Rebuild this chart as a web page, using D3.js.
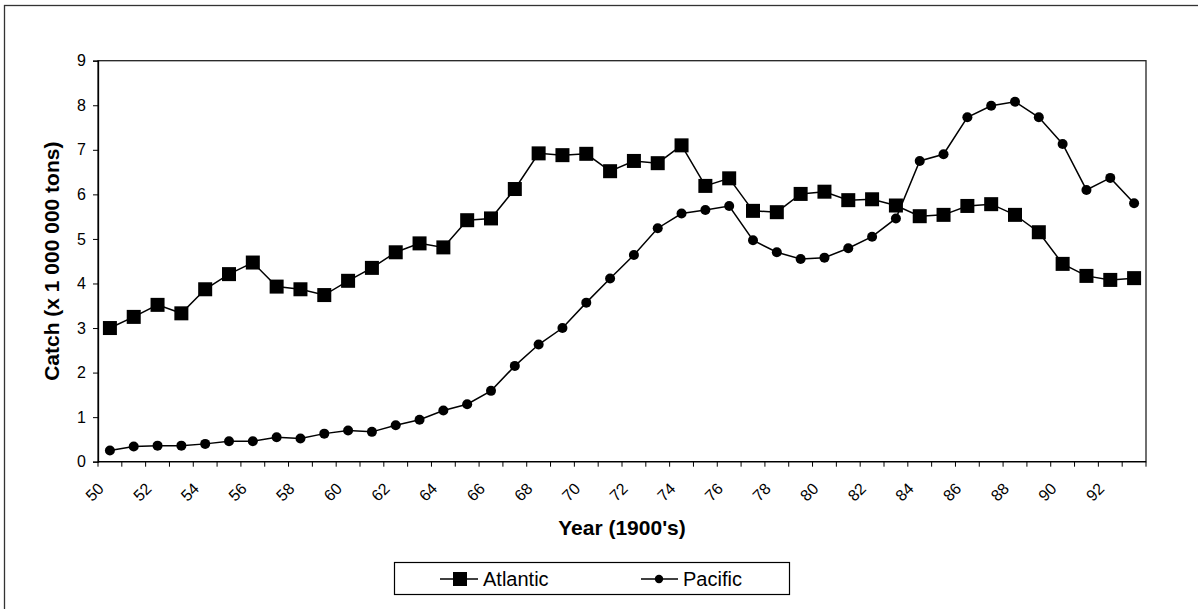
<!DOCTYPE html>
<html>
<head>
<meta charset="utf-8">
<script src="https://cdn.jsdelivr.net/npm/d3@7"></script>
<style>
  html, body { margin: 0; padding: 0; background: #fff; }
  svg { display: block; font-family: "Liberation Sans", Arial, sans-serif; }
</style>
</head>
<body>
<svg id="chart" width="1198" height="609"></svg>
<script>
const years = d3.range(50, 94);
const atlantic = [3.00, 3.25, 3.52, 3.33, 3.87, 4.21, 4.47, 3.93, 3.87, 3.74,
                  4.06, 4.35, 4.70, 4.90, 4.81, 5.42, 5.46, 6.12, 6.92, 6.88,
                  6.91, 6.52, 6.75, 6.70, 7.10, 6.19, 6.36, 5.63, 5.60, 6.01,
                  6.06, 5.87, 5.89, 5.75, 5.51, 5.54, 5.74, 5.78, 5.54, 5.15,
                  4.44, 4.17, 4.08, 4.12];
const pacific = [0.25, 0.34, 0.36, 0.36, 0.40, 0.46, 0.46, 0.55, 0.52, 0.63,
                 0.70, 0.67, 0.82, 0.94, 1.15, 1.29, 1.59, 2.15, 2.63, 3.00,
                 3.57, 4.11, 4.64, 5.24, 5.57, 5.65, 5.74, 4.97, 4.70, 4.55,
                 4.58, 4.79, 5.05, 5.46, 6.75, 6.90, 7.73, 7.99, 8.08, 7.73,
                 7.13, 6.10, 6.37, 5.80];
const yTicks = [0, 1, 2, 3, 4, 5, 6, 7, 8, 9];
const xLabels = d3.range(50, 93, 2);
const seriesNames = ["Atlantic", "Pacific"];

const svg = d3.select("#chart");
const L = 98, R = 1146, T = 60.7, B = 461.7;

// outer chart border (top + left visible)
svg.append("rect").attr("x", 4.5).attr("y", 5.5).attr("width", 1300).attr("height", 700)
  .attr("fill", "none").attr("stroke", "#333").attr("stroke-width", 1.3);

const x = d3.scaleBand().domain(years).range([L, R]).padding(0);
const y = d3.scaleLinear().domain([0, 9]).range([B, T]);
const cx = d => x(d) + x.bandwidth() / 2;

// plot area border
svg.append("rect").attr("x", L).attr("y", T).attr("width", R - L).attr("height", B - T)
  .attr("fill", "none").attr("stroke", "#222").attr("stroke-width", 1.3);

// y axis
const yAxis = svg.append("g").attr("transform", `translate(${L},0)`)
  .call(d3.axisLeft(y).tickValues(yTicks).tickSize(5).tickPadding(7).tickFormat(d3.format("d")));
yAxis.select(".domain").attr("stroke", "#000").attr("stroke-width", 1.3);
yAxis.selectAll(".tick line").attr("stroke", "#000");
yAxis.selectAll("text").attr("font-size", 16).attr("fill", "#000")
  .attr("font-family", "'Liberation Sans', Arial, sans-serif");

// x axis: tick marks at category boundaries
const bounds = years.map(d => x(d)).concat([x(years[years.length - 1]) + x.bandwidth()]);
const xAxis = svg.append("g");
xAxis.append("line").attr("x1", L).attr("x2", R).attr("y1", B).attr("y2", B)
  .attr("stroke", "#000").attr("stroke-width", 1.3);
xAxis.selectAll("line.tk").data(bounds).enter().append("line").attr("class", "tk")
  .attr("x1", d => d).attr("x2", d => d).attr("y1", B).attr("y2", B + 5)
  .attr("stroke", "#000").attr("stroke-width", 1);
xAxis.selectAll("text").data(xLabels).enter().append("text")
  .attr("transform", d => `translate(${cx(d) - 9},${B + 24}) rotate(-45)`)
  .attr("text-anchor", "end").attr("dy", "0.35em")
  .attr("font-size", 16).attr("fill", "#000")
  .text(d => d);

// axis titles
svg.append("text").attr("x", (L + R) / 2).attr("y", 535).attr("text-anchor", "middle")
  .attr("font-size", 21).attr("font-weight", "bold").text("Year (1900's)");
svg.append("text").attr("transform", `translate(59,${(T + B) / 2}) rotate(-90)`)
  .attr("text-anchor", "middle").attr("font-size", 21).attr("font-weight", "bold")
  .text("Catch (x 1 000 000 tons)");

// lines
const line = d3.line().x((d, i) => cx(years[i])).y(d => y(d));
svg.append("path").datum(atlantic).attr("d", line).attr("fill", "none")
  .attr("stroke", "#000").attr("stroke-width", 1.5);
svg.append("path").datum(pacific).attr("d", line).attr("fill", "none")
  .attr("stroke", "#000").attr("stroke-width", 1.5);

// markers
const sq = 14;
svg.append("g").selectAll("rect").data(atlantic).enter().append("rect")
  .attr("x", (d, i) => cx(years[i]) - sq / 2).attr("y", d => y(d) - sq / 2)
  .attr("width", sq).attr("height", sq).attr("fill", "#000");
svg.append("g").selectAll("circle").data(pacific).enter().append("circle")
  .attr("cx", (d, i) => cx(years[i])).attr("cy", d => y(d)).attr("r", 5).attr("fill", "#000");

// legend
const lg = svg.append("g");
lg.append("rect").attr("x", 394.5).attr("y", 562.5).attr("width", 395).attr("height", 32)
  .attr("fill", "#fff").attr("stroke", "#000").attr("stroke-width", 1.2);
const ly = 579;
lg.append("line").attr("x1", 440).attr("x2", 478).attr("y1", ly).attr("y2", ly).attr("stroke", "#000").attr("stroke-width", 1.5);
lg.append("rect").attr("x", 460 - 7).attr("y", ly - 7).attr("width", 14).attr("height", 14).attr("fill", "#000");
lg.append("text").attr("x", 483).attr("y", ly + 7).attr("font-size", 20).text(seriesNames[0]);
lg.append("line").attr("x1", 641).attr("x2", 678).attr("y1", ly).attr("y2", ly).attr("stroke", "#000").attr("stroke-width", 1.5);
lg.append("circle").attr("cx", 659).attr("cy", ly).attr("r", 4.2).attr("fill", "#000");
lg.append("text").attr("x", 683).attr("y", ly + 7).attr("font-size", 20).text(seriesNames[1]);
</script>
</body>
</html>
